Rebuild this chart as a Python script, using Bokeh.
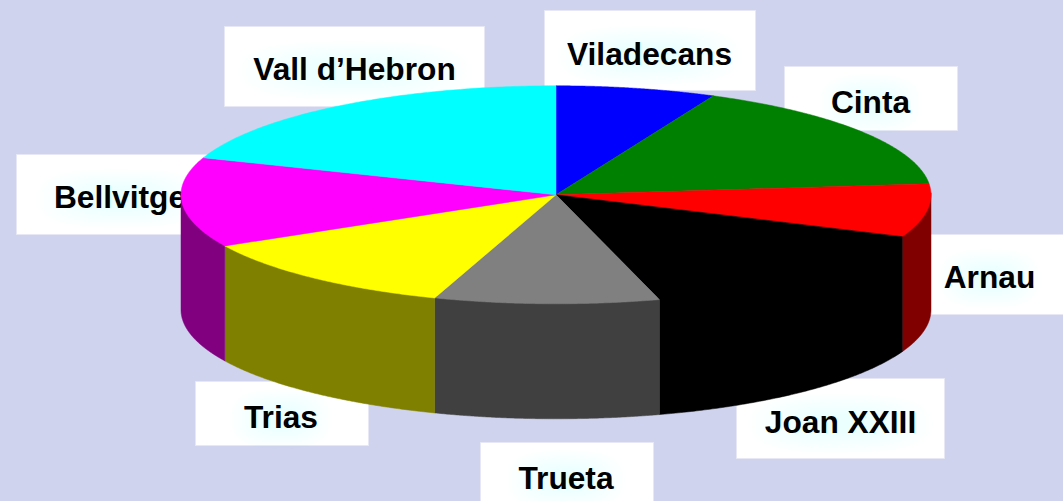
import numpy as np
from bokeh.core.properties import value
from bokeh.embed import file_html
from bokeh.plotting import figure
from bokeh.resources import INLINE

# ---- data, clockwise from 12 o'clock ----
categories = ["Viladecans", "Cinta", "Arnau", "Joan XXIII", "Trueta", "Trias", "Bellvitge", "Vall d\u2019Hebron"]
shares = [6.9, 16.5, 7.9, 14.3, 9.7, 12.0, 13.3, 19.5]

# ---- style ----
top_colors = ["#0000FF", "#008000", "#FF0000", "#000000", "#808080", "#FFFF00", "#FF00FF", "#00FFFF"]
side_colors = ["#000080", "#004000", "#800000", "#000000", "#404040", "#808000", "#800080", "#008080"]
BG = "#CFD3ED"

# ---- layout in page pixels ----
W, H = 1063, 501
CX, CY, RX, RY, DEPTH = 555.5, 194.3, 375.0, 109.0, 115.0
# label box (left, right, top, bottom), text centre x, text baseline y
boxes = {
    "Viladecans": (544, 755, 10, 90, 649, 66),
    "Cinta": (784, 957, 66, 130, 870, 114),
    "Arnau": (915, 1100, 234, 314, 989, 289),
    "Joan XXIII": (736, 944, 378, 458, 840, 434),
    "Trueta": (480, 653, 442, 530, 565.5, 490),
    "Trias": (195, 368, 381, 445, 280.5, 429),
    "Bellvitge": (16, 224, 154, 234, 119.5, 209),
    "Vall d\u2019Hebron": (224, 484, 26, 106, 354, 81),
}
BASELINE_SHIFT = -13  # the SVG text is drawn this far below the requested baseline

p = figure(width=W, height=H, x_range=(0, W), y_range=(H, 0), toolbar_location=None,
           output_backend="svg", min_border=0, outline_line_color=None,
           background_fill_color=BG, border_fill_color=BG)
p.axis.visible = False
p.grid.visible = False

# ---- labels sit behind the pie ----
u = np.linspace(0, 2 * np.pi, 60)
for name in categories:
    l, r, t, b, tx, ty = boxes[name]
    p.quad(left=l, right=r, top=t, bottom=b, fill_color="white", line_color="#E6E8F5", line_width=1)
    hw = len(name) * 8.2 + 10  # half-width of the glow around the word
    xs, ys = [], []
    for s in np.linspace(1.0, 0.3, 20):
        # rounded rectangle outlines, shrinking towards the word's centre
        xs.append(tx + s * hw * np.sign(np.cos(u)) * np.abs(np.cos(u)) ** 0.7)
        ys.append(ty - 11 + s * 30 * np.sign(np.sin(u)) * np.abs(np.sin(u)) ** 0.7)
    p.patches(xs, ys, fill_color="#A8DCFF", fill_alpha=0.012, line_color=None)
    p.text(x=[tx], y=[ty], text=[name], text_align="center", text_baseline="alphabetic",
           y_offset=BASELINE_SHIFT, text_font=value("Liberation Sans"), text_font_style="bold",
           text_font_size="31.7px", text_color="#000000")

# ---- pie ----
total = sum(shares)
edges = np.concatenate([[0.0], np.cumsum(shares)]) / total * 2 * np.pi


def ellipse(t, dy=0.0):
    return CX + RX * np.sin(t), CY - RY * np.cos(t) + dy


# visible wall: the front half of the disc (runs a little under the top face)
for i in range(len(categories)):
    a, b = max(edges[i], np.pi / 2), min(edges[i + 1], 3 * np.pi / 2)
    if b <= a:
        continue
    t = np.linspace(a, b, 120)
    x1, y1 = ellipse(t, -2.0)
    x2, y2 = ellipse(t[::-1], DEPTH)
    p.patch(np.r_[x1, x2], np.r_[y1, y2], fill_color=side_colors[i],
            line_color=side_colors[i], line_width=0.5)

# top face
for i in range(len(categories)):
    t = np.linspace(edges[i], edges[i + 1], 120)
    x1, y1 = ellipse(t)
    p.patch(np.r_[CX, x1], np.r_[CY, y1], fill_color=top_colors[i],
            line_color=top_colors[i], line_width=0.5)

html = file_html(p, INLINE)
html = html.replace("</head>", "<style>html,body{margin:0;padding:0;overflow:hidden;background:%s}</style></head>" % BG, 1)
open("out.html", "w").write(html)
